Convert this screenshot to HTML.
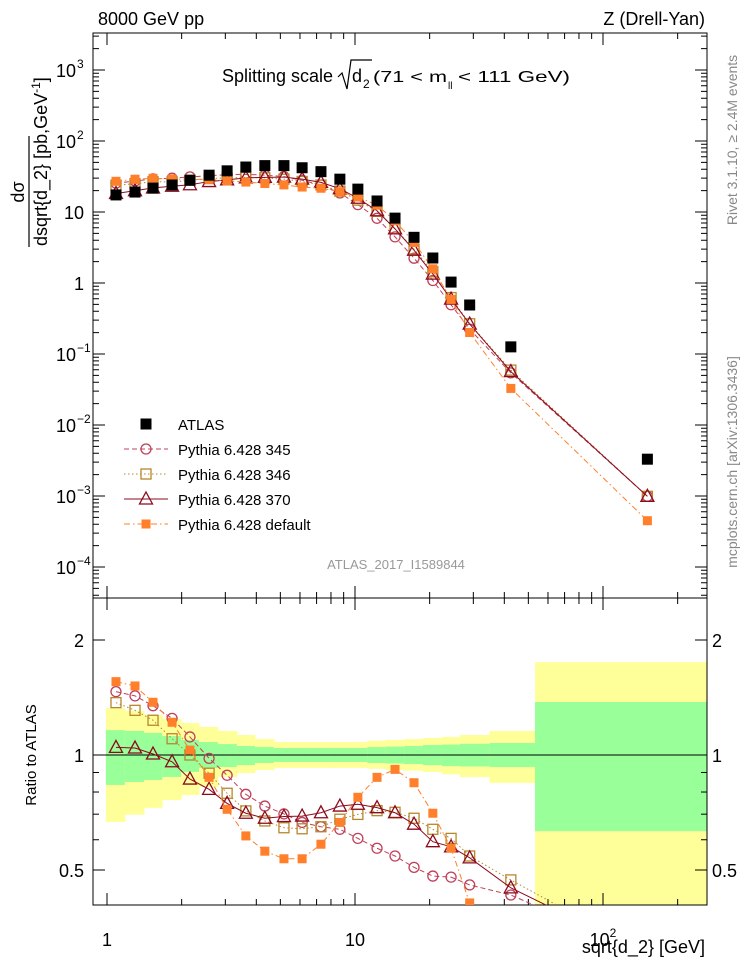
<!DOCTYPE html>
<html><head><meta charset="utf-8">
<style>
html,body{margin:0;padding:0;background:#fff;overflow:hidden;}
svg{display:block;font-family:"Liberation Sans",Arial,sans-serif;}
</style></head>
<body>
<svg id="chart" width="746" height="972" viewBox="0 0 746 972"></svg>
<script>
// ---- data ----
const xVals = [1.087,1.297,1.533,1.83,2.16,2.58,3.05,3.63,4.33,5.17,6.12,7.29,8.69,10.27,12.27,14.5,17.3,20.6,24.4,29.0,42.5,151];
const binEdges = [0.99,1.18,1.41,1.67,1.99,2.35,2.80,3.34,3.95,4.71,5.57,6.64,7.92,9.37,11.2,13.3,15.8,18.8,22.4,26.5,34.9,53.2,300];
const atlas = [17.4,19.1,21.7,24,28,33,38,43,45,45,42,37,29,21,14.3,8.2,4.4,2.25,1.03,0.49,0.126,0.0033];
const ratio345 = [1.465,1.428,1.346,1.247,1.115,0.980,0.885,0.789,0.735,0.701,0.666,0.649,0.639,0.605,0.570,0.544,0.508,0.482,0.479,0.457,0.43,0.30];
const ratio346 = [1.371,1.309,1.233,1.103,1.0,0.896,0.794,0.714,0.672,0.645,0.641,0.649,0.679,0.699,0.715,0.708,0.683,0.639,0.605,0.544,0.471,0.30];
const ratio370 = [1.047,1.043,1.006,0.960,0.865,0.813,0.747,0.704,0.683,0.690,0.692,0.706,0.735,0.743,0.728,0.706,0.659,0.593,0.575,0.538,0.449,0.30];
const ratioDef = [1.556,1.516,1.374,1.218,1.03,0.874,0.721,0.614,0.560,0.535,0.535,0.584,0.666,0.775,0.874,0.917,0.846,0.704,0.570,0.41,0.26,0.136];
const yellowUp = [1.327,1.304,1.273,1.242,1.213,1.184,1.156,1.128,1.101,1.081,1.081,1.081,1.081,1.081,1.090,1.095,1.101,1.108,1.115,1.128,1.156,1.75];
const yellowDn = [0.668,0.698,0.727,0.762,0.786,0.825,0.876,0.897,0.914,0.925,0.925,0.925,0.925,0.925,0.920,0.914,0.910,0.903,0.890,0.875,0.845,0.35];
const greenUp = [1.162,1.156,1.142,1.121,1.095,1.081,1.068,1.056,1.049,1.043,1.043,1.043,1.043,1.043,1.049,1.052,1.056,1.062,1.065,1.070,1.075,1.376];
const greenDn = [0.835,0.850,0.860,0.876,0.903,0.925,0.930,0.941,0.953,0.959,0.959,0.959,0.959,0.959,0.953,0.950,0.947,0.941,0.935,0.933,0.930,0.632];
const mainYTicks = [3,2,1,0,-1,-2,-3,-4];
const mainYLabels = ["10","10","10","1","10","10","10","10"];
const mainYExps = ["3","2","","","−1","−2","−3","−4"];
const ratioTicks = [2,1,0.5];
const ratioLabels = ["2","1","0.5"];
const xTicks = [1,10,100];

// ---- geometry ----
const L=93,R=707,T=33,MB=598,RB=905;
const X = v => 107 + 248*Math.log10(v);
const Y = v => 283 - 71*Math.log10(v);
const YR = r => 755 - 382*Math.log10(r);
const NS="http://www.w3.org/2000/svg";
const svg=document.getElementById('chart');
function el(tag,attrs,parent){const e=document.createElementNS(NS,tag);for(const k in attrs)e.setAttribute(k,attrs[k]);(parent||svg).appendChild(e);return e;}

const defs=el('defs',{});
const c1=el('clipPath',{id:'cm'},defs);el('rect',{x:L,y:T,width:R-L,height:MB-T},c1);
const c2=el('clipPath',{id:'cr'},defs);el('rect',{x:L,y:MB,width:R-L,height:RB-MB},c2);

const bandG=el('g',{'clip-path':'url(#cr)'});


for(let i=0;i<xVals.length;i++){
  const x0=X(binEdges[i]),x1=X(binEdges[i+1]);
  const y=el('rect',{x:x0,y:YR(yellowUp[i]),width:x1-x0+0.5,height:YR(yellowDn[i])-YR(yellowUp[i]),fill:'#ffff99'},bandG);
  
  
  const g=el('rect',{x:x0,y:YR(greenUp[i]),width:x1-x0+0.5,height:YR(greenDn[i])-YR(greenUp[i]),fill:'#99ff99'},bandG);
  
  
}
el('line',{x1:L,x2:R,y1:YR(1),y2:YR(1),stroke:'#000','stroke-width':1});

const f1=el('rect',{x:L,y:T,width:R-L,height:MB-T,fill:'none',stroke:'#000','stroke-width':1});


const f2=el('rect',{x:L,y:MB,width:R-L,height:RB-MB,fill:'none',stroke:'#000','stroke-width':1});



for(let d=0;d<3;d++){for(let m=1;m<=9;m++){
  const v=Math.pow(10,d)*m; const x=X(v); if(x<L||x>R)continue;
  const len=m===1?12:6;
  el('line',{x1:x,x2:x,y1:T,y2:T+len,stroke:'#000'});
  el('line',{x1:x,x2:x,y1:MB,y2:MB-len,stroke:'#000'});
  el('line',{x1:x,x2:x,y1:MB,y2:MB+len,stroke:'#000'});
  el('line',{x1:x,x2:x,y1:RB,y2:RB-len,stroke:'#000'});
}}
xTicks.forEach((v,i)=>{
  const t=el('text',{x:X(v),y:946,'font-size':18,'text-anchor':'middle'});
  
  
  if(v===100){t.textContent='10';const s=el('tspan',{dy:-9,'font-size':12},t);s.textContent='2';}
  else t.textContent=String(v);
});
for(let e=-5;e<=3;e++){for(let m=1;m<=9;m++){
  const v=Math.pow(10,e)*m;const y=Y(v);if(y<T||y>MB)continue;
  const len=m===1?12:6;
  el('line',{x1:L,x2:L+len,y1:y,y2:y,stroke:'#000'});
  el('line',{x1:R,x2:R-len,y1:y,y2:y,stroke:'#000'});
}}
mainYTicks.forEach((e,i)=>{
  const t=el('text',{x:mainYExps[i]?76:84,y:Y(Math.pow(10,e))+7,'font-size':18,'text-anchor':'end'});
  
  
  t.textContent=mainYLabels[i];
  if(mainYExps[i]){const s=el('text',{x:77,y:Y(Math.pow(10,e))-2,'font-size':12,'text-anchor':'start'});s.textContent=mainYExps[i];
    
    }
});
[0.5,0.6,0.7,0.8,0.9,1,2].forEach(r=>{const y=YR(r);const len=(r===1||r===2||r===0.5)?12:6;
  el('line',{x1:L,x2:L+len,y1:y,y2:y,stroke:'#000'});el('line',{x1:R,x2:R-len,y1:y,y2:y,stroke:'#000'});});
ratioTicks.forEach((r,i)=>{
  const a=el('text',{x:84,y:YR(r)+7,'font-size':18,'text-anchor':'end'});a.textContent=ratioLabels[i];
  
  
  const b=el('text',{x:712,y:YR(r)+7,'font-size':18,'text-anchor':'start'});b.textContent=ratioLabels[i];
  
  
});

const series=[
 {name:'pythia-345',r:ratio345,color:'#c0405a',dash:'5,3',mk:'circle'},
 {name:'pythia-346',r:ratio346,color:'#b8862b',dash:'1.5,2.5',mk:'square-open'},
 {name:'pythia-370',r:ratio370,color:'#8b0a1e',dash:'',mk:'triangle'},
 {name:'pythia-default',r:ratioDef,color:'#ff7f2a',dash:'6,3,1.5,3',mk:'square'}
];
function marker(g,type,x,y,color){
  let m;
  if(type==='circle')m=el('circle',{cx:x,cy:y,r:5,fill:'none',stroke:color,'stroke-width':1.3},g);
  else if(type==='square-open')m=el('rect',{x:x-5,y:y-5,width:10,height:10,fill:'none',stroke:color,'stroke-width':1.3},g);
  else if(type==='square')m=el('rect',{x:x-4.5,y:y-4.5,width:9,height:9,fill:color},g);
  else if(type==='triangle')m=el('path',{d:`M${x},${y-7}L${x+6.5},${y+5}L${x-6.5},${y+5}Z`,fill:'none',stroke:color,'stroke-width':1.3},g);
  else m=el('rect',{x:x-5.5,y:y-5.5,width:11,height:11,fill:color},g);
  return m;
}
series.forEach(s=>{
  const gm=el('g',{'clip-path':'url(#cm)'});
  
  
  const gr=el('g',{'clip-path':'url(#cr)'});
  
  
  const pm=xVals.map((x,i)=>X(x)+','+Y(atlas[i]*s.r[i])).join(' ');
  const pr=xVals.map((x,i)=>X(x)+','+YR(s.r[i])).join(' ');
  el('polyline',{points:pm,fill:'none',stroke:s.color,'stroke-width':1,'stroke-dasharray':s.dash},gm);
  el('polyline',{points:pr,fill:'none',stroke:s.color,'stroke-width':1,'stroke-dasharray':s.dash},gr);
  xVals.forEach((x,i)=>{
    const a=marker(gm,s.mk,X(x),Y(atlas[i]*s.r[i]),s.color);
    
    
    const b=marker(gr,s.mk,X(x),YR(s.r[i]),s.color);
    
    
  });
});
const ga=el('g',{'clip-path':'url(#cm)'});


xVals.forEach((x,i)=>{const m=marker(ga,'black',X(x),Y(atlas[i]),'#000');
  
  });

const lg=el('g',{});


const legNames=['ATLAS','Pythia 6.428 345','Pythia 6.428 346','Pythia 6.428 370','Pythia 6.428 default'];
legNames.forEach((n,i)=>{
  const y=424+i*25;
  const e=el('g',{},lg);
  
  
  if(i===0)marker(e,'black',146,y,'#000');
  else{const s=series[i-1];el('line',{x1:124,x2:168,y1:y,y2:y,stroke:s.color,'stroke-dasharray':s.dash},e);marker(e,s.mk,146,y,s.color);}
  const t=el('text',{x:178,y:y+6,'font-size':15},e);t.textContent=n;
});

function txt(x,y,s,attrs,name){const t=el('text',Object.assign({x:x,y:y},attrs));t.textContent=s;
  
  return t;}
txt(98,25,'8000 GeV pp',{'font-size':18},'energy-label');
txt(705,25,'Z (Drell-Yan)',{'font-size':18,'text-anchor':'end'},'process-label');
txt(222,82,'Splitting scale',{'font-size':18,textLength:111,lengthAdjust:'spacingAndGlyphs'},'plot-title');
const sq=el('path',{d:'M338,77 L342,73 L347,89 L351,60 L372,60',fill:'none',stroke:'#000','stroke-width':1.2});


txt(352,82,'d',{'font-size':18},'title-d');
txt(363,88,'2',{'font-size':12},'title-sub');
txt(373,82,'(71 < m',{'font-size':16,textLength:74,lengthAdjust:'spacingAndGlyphs'},'title-range');
txt(448,89,'ll',{'font-size':10},'title-sub-ll');
txt(458,82,'< 111 GeV)',{'font-size':16,textLength:112,lengthAdjust:'spacingAndGlyphs'},'title-range-end');
txt(396,569,'ATLAS_2017_I1589844',{'font-size':13,fill:'#999','text-anchor':'middle'},'analysis-id');
txt(705,953,'sqrt{d_2} [GeV]',{'font-size':18,'text-anchor':'end'},'x-axis-title');
txt(0,0,'Ratio to ATLAS',{'font-size':15,'text-anchor':'middle',transform:'translate(36,755) rotate(-90)'},'ratio-y-axis-title');
const yt=el('text',{transform:'translate(47,246) rotate(-90)','font-size':18,'text-anchor':'start'});


yt.textContent='dsqrt{d_2} [pb,GeV';
const ys=el('tspan',{dy:-7,'font-size':12},yt);ys.textContent='-1';
const ye=el('tspan',{dy:7},yt);ye.textContent=']';
const fl=el('line',{x1:29,x2:29,y1:136,y2:247,stroke:'#000','stroke-width':1.2});


txt(0,0,'dσ',{'font-size':18,'text-anchor':'middle',transform:'translate(24,192) rotate(-90)'},'y-axis-numerator');
txt(0,0,'Rivet 3.1.10, ≥ 2.4M events',{'font-size':14,fill:'#888','text-anchor':'middle',transform:'translate(737,140) rotate(-90)'},'rivet-label');
txt(0,0,'mcplots.cern.ch [arXiv:1306.3436]',{'font-size':14,fill:'#888','text-anchor':'middle',transform:'translate(737,462) rotate(-90)'},'mcplots-label');
</script>
</body></html>
